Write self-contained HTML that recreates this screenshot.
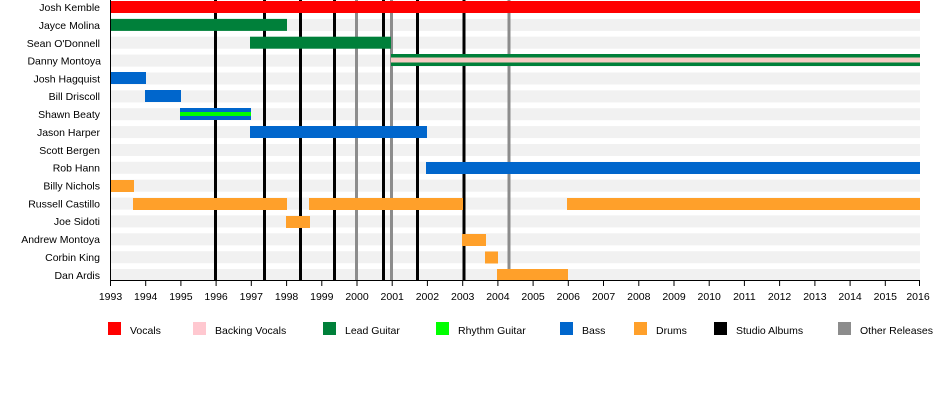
<!DOCTYPE html>
<html><head><meta charset="utf-8"><style>
html,body{margin:0;padding:0;background:#fff;}
svg{display:block;font-family:"Liberation Sans",sans-serif;}
</style></head><body>
<svg width="950" height="400" viewBox="0 0 950 400" xmlns="http://www.w3.org/2000/svg">
<g fill="#f1f1f1">
<rect x="110" y="1" width="810" height="12"/>
<rect x="110" y="18.9" width="810" height="12"/>
<rect x="110" y="36.7" width="810" height="12"/>
<rect x="110" y="54.6" width="810" height="12"/>
<rect x="110" y="72.5" width="810" height="12"/>
<rect x="110" y="90.4" width="810" height="12"/>
<rect x="110" y="108.2" width="810" height="12"/>
<rect x="110" y="126.1" width="810" height="12"/>
<rect x="110" y="144" width="810" height="12"/>
<rect x="110" y="161.8" width="810" height="12"/>
<rect x="110" y="179.7" width="810" height="12"/>
<rect x="110" y="197.6" width="810" height="12"/>
<rect x="110" y="215.4" width="810" height="12"/>
<rect x="110" y="233.3" width="810" height="12"/>
<rect x="110" y="251.2" width="810" height="12"/>
<rect x="110" y="269" width="810" height="12"/>
</g>
<g stroke-width="3">
<line x1="215.5" y1="0" x2="215.5" y2="280" stroke="#000"/>
<line x1="264.5" y1="0" x2="264.5" y2="280" stroke="#000"/>
<line x1="300.5" y1="0" x2="300.5" y2="280" stroke="#000"/>
<line x1="334.5" y1="0" x2="334.5" y2="280" stroke="#000"/>
<line x1="383.5" y1="0" x2="383.5" y2="280" stroke="#000"/>
<line x1="417.5" y1="0" x2="417.5" y2="280" stroke="#000"/>
<line x1="464" y1="0" x2="464" y2="280" stroke="#000"/>
<line x1="356.5" y1="0" x2="356.5" y2="280" stroke="#8c8c8c"/>
<line x1="391.5" y1="0" x2="391.5" y2="280" stroke="#8c8c8c"/>
<line x1="509" y1="0" x2="509" y2="280" stroke="#8c8c8c"/>
</g>
<!-- bars -->
<rect x="110" y="1" width="810" height="12" fill="#ff0000"/>
<rect x="110" y="18.9" width="177" height="12" fill="#00803a"/>
<rect x="250" y="36.7" width="141" height="12" fill="#00803a"/>
<rect x="391" y="54" width="529" height="12" fill="#00803a"/>
<rect x="391" y="57.5" width="529" height="5" fill="#f5cbc3"/>
<rect x="110" y="72" width="36" height="12" fill="#0066cc"/>
<rect x="145" y="90" width="36" height="12" fill="#0066cc"/>
<rect x="180" y="108" width="71" height="12" fill="#0066cc"/>
<rect x="180" y="112" width="71" height="4" fill="#00ff00"/>
<rect x="250" y="126" width="177" height="12" fill="#0066cc"/>
<rect x="426" y="162" width="494" height="12" fill="#0066cc"/>
<rect x="110" y="180" width="24" height="12" fill="#ffa02a"/>
<rect x="133" y="198" width="154" height="12" fill="#ffa02a"/>
<rect x="309" y="198" width="154" height="12" fill="#ffa02a"/>
<rect x="567" y="198" width="353" height="12" fill="#ffa02a"/>
<rect x="286" y="216" width="24" height="12" fill="#ffa02a"/>
<rect x="462" y="234" width="24" height="12" fill="#ffa02a"/>
<rect x="485" y="251.5" width="13" height="12" fill="#ffa02a"/>
<rect x="497" y="269" width="71" height="12" fill="#ffa02a"/>
<!-- axes -->
<line x1="110.5" y1="0" x2="110.5" y2="281" stroke="#000" stroke-width="1"/>
<line x1="110" y1="280.5" x2="920" y2="280.5" stroke="#000" stroke-width="1"/>
<g stroke="#000" stroke-width="1">
<line x1="110.5" y1="280" x2="110.5" y2="286"/><line x1="145.7" y1="280" x2="145.7" y2="286"/><line x1="180.9" y1="280" x2="180.9" y2="286"/><line x1="216.1" y1="280" x2="216.1" y2="286"/><line x1="251.3" y1="280" x2="251.3" y2="286"/><line x1="286.6" y1="280" x2="286.6" y2="286"/><line x1="321.8" y1="280" x2="321.8" y2="286"/><line x1="357" y1="280" x2="357" y2="286"/><line x1="392.2" y1="280" x2="392.2" y2="286"/><line x1="427.4" y1="280" x2="427.4" y2="286"/><line x1="462.7" y1="280" x2="462.7" y2="286"/><line x1="497.9" y1="280" x2="497.9" y2="286"/><line x1="533.1" y1="280" x2="533.1" y2="286"/><line x1="568.3" y1="280" x2="568.3" y2="286"/><line x1="603.5" y1="280" x2="603.5" y2="286"/><line x1="638.8" y1="280" x2="638.8" y2="286"/><line x1="674" y1="280" x2="674" y2="286"/><line x1="709.2" y1="280" x2="709.2" y2="286"/><line x1="744.4" y1="280" x2="744.4" y2="286"/><line x1="779.6" y1="280" x2="779.6" y2="286"/><line x1="814.9" y1="280" x2="814.9" y2="286"/><line x1="850.1" y1="280" x2="850.1" y2="286"/><line x1="885.3" y1="280" x2="885.3" y2="286"/><line x1="919.5" y1="280" x2="919.5" y2="286"/>
</g>
<g font-size="10.5" fill="#000" text-anchor="middle">
<text x="110.5" y="300">1993</text><text x="145.7" y="300">1994</text><text x="180.9" y="300">1995</text><text x="216.1" y="300">1996</text><text x="251.3" y="300">1997</text><text x="286.6" y="300">1998</text><text x="321.8" y="300">1999</text><text x="357" y="300">2000</text><text x="392.2" y="300">2001</text><text x="427.4" y="300">2002</text><text x="462.7" y="300">2003</text><text x="497.9" y="300">2004</text><text x="533.1" y="300">2005</text><text x="568.3" y="300">2006</text><text x="603.5" y="300">2007</text><text x="638.8" y="300">2008</text><text x="674" y="300">2009</text><text x="709.2" y="300">2010</text><text x="744.4" y="300">2011</text><text x="779.6" y="300">2012</text><text x="814.9" y="300">2013</text><text x="850.1" y="300">2014</text><text x="885.3" y="300">2015</text><text x="918" y="300">2016</text>
</g>
<g font-size="10.5" fill="#000" text-anchor="end">
<text x="100" y="11">Josh Kemble</text>
<text x="100" y="29">Jayce Molina</text>
<text x="100" y="47">Sean O'Donnell</text>
<text x="101" y="64.5">Danny Montoya</text>
<text x="100" y="82.5">Josh Hagquist</text>
<text x="100" y="100">Bill Driscoll</text>
<text x="100" y="118">Shawn Beaty</text>
<text x="100" y="136">Jason Harper</text>
<text x="100" y="154">Scott Bergen</text>
<text x="100" y="171.5">Rob Hann</text>
<text x="100" y="189.5">Billy Nichols</text>
<text x="100" y="207.5">Russell Castillo</text>
<text x="100" y="225">Joe Sidoti</text>
<text x="100" y="243">Andrew Montoya</text>
<text x="100" y="261">Corbin King</text>
<text x="100" y="279">Dan Ardis</text>
</g>
<g font-size="10.5" fill="#000">
<rect x="108" y="322" width="13" height="13" fill="#ff0000"/><text x="130" y="334">Vocals</text>
<rect x="193" y="322" width="13" height="13" fill="#ffc8d0"/><text x="215" y="334">Backing Vocals</text>
<rect x="323" y="322" width="13" height="13" fill="#00803a"/><text x="345" y="334">Lead Guitar</text>
<rect x="436" y="322" width="13" height="13" fill="#00ff00"/><text x="458" y="334">Rhythm Guitar</text>
<rect x="560" y="322" width="13" height="13" fill="#0066cc"/><text x="582" y="334">Bass</text>
<rect x="634" y="322" width="13" height="13" fill="#ffa02a"/><text x="656" y="334">Drums</text>
<rect x="714" y="322" width="13" height="13" fill="#000"/><text x="736" y="334">Studio Albums</text>
<rect x="838" y="322" width="13" height="13" fill="#8c8c8c"/><text x="860" y="334">Other Releases</text>
</g>
</svg>
</body></html>
